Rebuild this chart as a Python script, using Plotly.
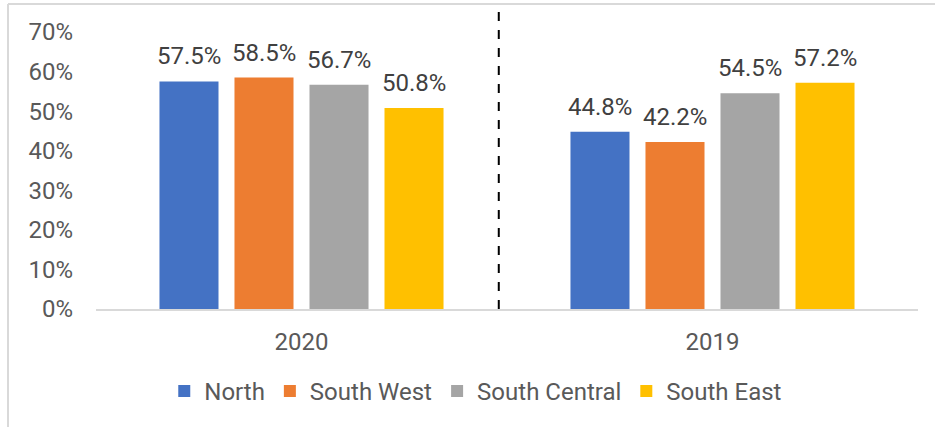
import plotly.graph_objects as go

years = ["2020", "2019"]
regions = ["North", "South West", "South Central", "South East"]
north = [57.5, 44.8]
south_west = [58.5, 42.2]
south_central = [56.7, 54.5]
south_east = [50.8, 57.2]
colors = ["#4472C4", "#ED7D31", "#A5A5A5", "#FFC000"]
y_ticks = [0, 10, 20, 30, 40, 50, 60, 70]

series = [north, south_west, south_central, south_east]
FONT = "Roboto"
FS = 24
BARGAP = 0.27
BARGROUPGAP = 0.213

fig = go.Figure()
for name, vals, col in zip(regions, series, colors):
    fig.add_trace(go.Bar(
        x=years, y=vals, name=name, marker_color=col, marker_line_width=0,
    ))

# data labels placed above each bar, using the bar group slots
n = len(series)
slot = (1 - BARGAP) / n
annotations = []
for i, vals in enumerate(series):
    for j, v in enumerate(vals):
        annotations.append(dict(
            x=j + (i - (n - 1) / 2) * slot, y=v, xref="x", yref="y",
            text=f"{v:.1f}%", showarrow=False, yanchor="bottom", yshift=9,
            font=dict(size=FS, color="#404040", family=FONT),
        ))

W, H = 935, 427
L, R, T, B = 96, 17, 32, 118
pw, ph = W - L - R, H - T - B

def px_x(p):
    return (p - L) / pw

def px_y(p):
    return (H - B - p) / ph

fig.update_layout(
    width=W, height=H,
    margin=dict(l=L, r=R, t=T, b=B),
    paper_bgcolor="white", plot_bgcolor="white",
    barmode="group", bargap=BARGAP, bargroupgap=BARGROUPGAP,
    font=dict(family=FONT, size=FS, color="#595959"),
    showlegend=True,
    legend=dict(orientation="h", x=0.462, xanchor="center", y=px_y(369), yanchor="top",
                font=dict(size=FS, color="#595959", family=FONT), traceorder="normal",
                itemwidth=30),
    xaxis=dict(showline=True, linecolor="#D9D9D9", linewidth=2, showgrid=False,
               ticks="", ticklabelstandoff=10, tickfont=dict(size=FS, color="#595959")),
    yaxis=dict(range=[0, 70], tickvals=y_ticks, ticktext=[f"{v}%" for v in y_ticks],
               showgrid=False, zeroline=False, showline=False, ticks="",
               ticklabelstandoff=22, tickfont=dict(size=FS, color="#595959")),
    annotations=annotations,
    shapes=[
        dict(type="line", xref="x", yref="paper", x0=0.48, x1=0.48, y0=0, y1=px_y(4),
             line=dict(color="black", width=2, dash="dash")),
        dict(type="line", xref="paper", yref="paper", x0=px_x(8), x1=px_x(940),
             y0=px_y(4), y1=px_y(4), line=dict(color="#D9D9D9", width=2)),
        dict(type="line", xref="paper", yref="paper", x0=px_x(8), x1=px_x(8),
             y0=px_y(4), y1=px_y(432), line=dict(color="#D9D9D9", width=2)),
    ],
)

fig.write_html("out.html", config={"displayModeBar": False},
               post_script="document.body.style.margin='0';")
